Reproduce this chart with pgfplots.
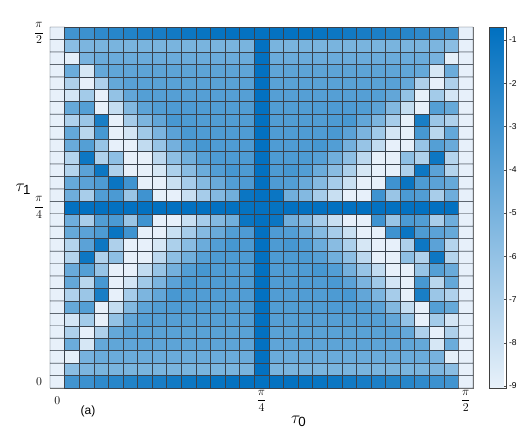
\documentclass[border=0pt]{standalone}
\usepackage{fontspec}
\setmainfont{Liberation Sans}
\usepackage{pgfplots}
\pgfplotsset{compat=1.18}
\definecolor{cellline}{RGB}{58,66,76}

% 29x29 grid, row-major from the bottom row (tau_1 = 0) upwards,
% each text line is one row from tau_0 = 0 to tau_0 = pi/2
\begin{document}
\begin{tikzpicture}
\path[use as bounding box] (-50pt,-44pt) rectangle (479pt,388pt);
\begin{axis}[
  at={(0,0)}, anchor=south west,
  scale only axis, width=423pt, height=361pt,
  xmin=-0.5, xmax=28.5, ymin=-0.5, ymax=28.5,
  clip=false,
  xtick={0,14,28},
  xticklabels={$0$,$\displaystyle\frac{\pi}{4}$,$\displaystyle\frac{\pi}{2}$},
  ytick={0,14,28},
  yticklabels={$0$,$\displaystyle\frac{\pi}{4}$,$\displaystyle\frac{\pi}{2}$},
  major tick length=0pt,
  axis line style={black!60},
  tick label style={font=\fontsize{11.5}{12}\selectfont},
  xticklabel style={anchor=center, yshift=-13pt},
  yticklabel style={anchor=center, xshift=-11pt},
  xlabel={$\tau_{\mathrm{0}}$},
  ylabel={$\tau_{\mathrm{1}}$},
  label style={font=\fontsize{19}{20}\selectfont},
  xlabel style={at={(axis description cs:0.588,-0.092)}, anchor=center},
  ylabel style={at={(axis description cs:-0.063,0.55)}, anchor=center, rotate=-90},
  colormap={blues}{rgb255=(232,241,250) rgb255=(0,112,192)},
  point meta min=-9.05, point meta max=-0.7,
  colorbar,
  colorbar style={
    at={(parent axis.north east)}, anchor=north west, xshift=8pt,
    width=17pt,
    ytick={-9,-8,-7,-6,-5,-4,-3,-2,-1},
    yticklabels={-9,-8,-7,-6,-5,-4,-3,-2,-1},
    ytick pos=right,
    yticklabel style={font=\fontsize{8.5}{9}\selectfont, xshift=-1pt},
    major tick length=3pt, tick align=inside,
    tick style={black!70}, axis line style={black!75},
  },
]
\addplot[matrix plot*, mesh/cols=29, point meta=explicit, draw=cellline, line width=0.45pt]
  table[row sep=\\, meta=c,
        x expr={\coordindex-29*floor((\coordindex+0.5)/29)},
        y expr={floor((\coordindex+0.5)/29)}] {
c\\
-9\\-3.1\\-2.9\\-2.45\\-2.15\\-1.95\\-1.75\\-1.6\\-1.4\\-1.2\\-1.06\\-0.99\\-0.91\\-0.91\\-0.88\\-0.91\\-0.91\\-0.99\\-1.06\\-1.2\\-1.4\\-1.6\\-1.75\\-1.95\\-2.15\\-2.45\\-2.9\\-3.1\\-9\\
-9\\-5.7\\-5.2\\-5.1\\-5.1\\-5.1\\-5.1\\-5.1\\-5.1\\-5.1\\-5.1\\-5.1\\-5.1\\-5.1\\-0.85\\-5.1\\-5.1\\-5.1\\-5.1\\-5.1\\-5.1\\-5.1\\-5.1\\-5.1\\-5.1\\-5.1\\-5.2\\-5.7\\-9\\
-9\\-8.9\\-5.0\\-4.55\\-4.55\\-4.55\\-4.55\\-4.55\\-4.55\\-4.55\\-4.55\\-4.55\\-4.55\\-4.55\\-0.85\\-4.55\\-4.55\\-4.55\\-4.55\\-4.55\\-4.55\\-4.55\\-4.55\\-4.55\\-4.55\\-4.55\\-5.0\\-8.9\\-9\\
-9\\-4.6\\-8.4\\-4.35\\-4.2\\-4.15\\-4.1\\-4.1\\-4.1\\-4.1\\-4.1\\-4.1\\-4.1\\-4.15\\-0.85\\-4.15\\-4.1\\-4.1\\-4.1\\-4.1\\-4.1\\-4.1\\-4.1\\-4.15\\-4.2\\-4.35\\-8.4\\-4.6\\-9\\
-9\\-6.96\\-9\\-6.96\\-4.35\\-3.9\\-3.95\\-3.95\\-3.95\\-3.95\\-3.95\\-3.95\\-3.95\\-3.95\\-0.85\\-3.95\\-3.95\\-3.95\\-3.95\\-3.95\\-3.95\\-3.95\\-3.95\\-3.9\\-4.35\\-6.96\\-9\\-6.96\\-9\\
-9\\-8.3\\-6.6\\-9\\-6.0\\-4.25\\-3.75\\-3.8\\-3.8\\-3.8\\-3.8\\-3.8\\-3.8\\-3.8\\-0.85\\-3.8\\-3.8\\-3.8\\-3.8\\-3.8\\-3.8\\-3.8\\-3.75\\-4.25\\-6.0\\-9\\-6.6\\-8.3\\-9\\
-9\\-4.4\\-3.75\\-9\\-7.75\\-5.4\\-4.05\\-3.65\\-3.55\\-3.55\\-3.6\\-3.65\\-3.65\\-3.65\\-0.85\\-3.65\\-3.65\\-3.65\\-3.6\\-3.55\\-3.55\\-3.65\\-4.05\\-5.4\\-7.75\\-9\\-3.75\\-4.4\\-9\\
-9\\-7.0\\-6.3\\-1.67\\-9\\-6.7\\-5.2\\-4.25\\-3.35\\-3.5\\-3.65\\-3.65\\-3.65\\-3.65\\-0.85\\-3.65\\-3.65\\-3.65\\-3.65\\-3.5\\-3.35\\-4.25\\-5.2\\-6.7\\-9\\-1.67\\-6.3\\-7.0\\-9\\
-9\\-4.35\\-7.36\\-3.3\\-9\\-8.3\\-6.46\\-5.15\\-4.0\\-3.4\\-3.6\\-3.6\\-3.6\\-3.6\\-0.85\\-3.6\\-3.6\\-3.6\\-3.6\\-3.4\\-4.0\\-5.15\\-6.46\\-8.3\\-9\\-3.3\\-7.36\\-4.35\\-9\\
-9\\-4.5\\-3.75\\-6.17\\-9\\-9\\-7.65\\-6.17\\-4.9\\-3.7\\-3.25\\-3.6\\-3.6\\-3.6\\-0.85\\-3.6\\-3.6\\-3.6\\-3.25\\-3.7\\-4.9\\-6.17\\-7.65\\-9\\-9\\-6.17\\-3.75\\-4.5\\-9\\
-9\\-7.18\\-1.24\\-7.0\\-5.85\\-9\\-9\\-7.47\\-5.85\\-4.8\\-3.85\\-3.5\\-3.5\\-3.5\\-0.85\\-3.5\\-3.5\\-3.5\\-3.85\\-4.8\\-5.85\\-7.47\\-9\\-9\\-5.85\\-7.0\\-1.24\\-7.18\\-9\\
-9\\-7.2\\-4.0\\-1.24\\-6.96\\-9\\-9\\-8.4\\-6.9\\-5.67\\-4.6\\-3.7\\-3.25\\-3.5\\-0.85\\-3.5\\-3.25\\-3.7\\-4.6\\-5.67\\-6.9\\-8.4\\-9\\-9\\-6.96\\-1.24\\-4.0\\-7.2\\-9\\
-9\\-4.4\\-4.0\\-3.5\\-1.1\\-3.0\\-9\\-9\\-7.93\\-6.7\\-5.5\\-4.5\\-3.7\\-3.55\\-0.85\\-3.55\\-3.7\\-4.5\\-5.5\\-6.7\\-7.93\\-9\\-9\\-3.0\\-1.1\\-3.5\\-4.0\\-4.4\\-9\\
-9\\-4.7\\-6.75\\-3.65\\-3.45\\-6.24\\-3.0\\-9\\-9\\-7.9\\-6.7\\-5.45\\-4.8\\-1.17\\-0.85\\-1.17\\-4.8\\-5.45\\-6.7\\-7.9\\-9\\-9\\-3.0\\-6.24\\-3.45\\-3.65\\-6.75\\-4.7\\-9\\
-9\\-0.85\\-0.85\\-0.85\\-0.85\\-0.85\\-0.85\\-0.85\\-0.85\\-0.85\\-0.85\\-0.85\\-0.85\\-0.95\\-0.85\\-0.95\\-0.85\\-0.85\\-0.85\\-0.85\\-0.85\\-0.85\\-0.85\\-0.85\\-0.85\\-0.85\\-0.85\\-0.85\\-9\\
-9\\-4.7\\-6.75\\-3.65\\-3.45\\-6.24\\-3.0\\-9\\-9\\-7.9\\-6.7\\-5.45\\-4.8\\-1.17\\-0.85\\-1.17\\-4.8\\-5.45\\-6.7\\-7.9\\-9\\-9\\-3.0\\-6.24\\-3.45\\-3.65\\-6.75\\-4.7\\-9\\
-9\\-4.4\\-4.0\\-3.5\\-1.1\\-3.0\\-9\\-9\\-7.93\\-6.7\\-5.5\\-4.5\\-3.7\\-3.55\\-0.85\\-3.55\\-3.7\\-4.5\\-5.5\\-6.7\\-7.93\\-9\\-9\\-3.0\\-1.1\\-3.5\\-4.0\\-4.4\\-9\\
-9\\-7.2\\-4.0\\-1.24\\-6.96\\-9\\-9\\-8.4\\-6.9\\-5.67\\-4.6\\-3.7\\-3.25\\-3.5\\-0.85\\-3.5\\-3.25\\-3.7\\-4.6\\-5.67\\-6.9\\-8.4\\-9\\-9\\-6.96\\-1.24\\-4.0\\-7.2\\-9\\
-9\\-7.18\\-1.24\\-7.0\\-5.85\\-9\\-9\\-7.47\\-5.85\\-4.8\\-3.85\\-3.5\\-3.5\\-3.5\\-0.85\\-3.5\\-3.5\\-3.5\\-3.85\\-4.8\\-5.85\\-7.47\\-9\\-9\\-5.85\\-7.0\\-1.24\\-7.18\\-9\\
-9\\-4.5\\-3.75\\-6.17\\-9\\-9\\-7.65\\-6.17\\-4.9\\-3.7\\-3.25\\-3.6\\-3.6\\-3.6\\-0.85\\-3.6\\-3.6\\-3.6\\-3.25\\-3.7\\-4.9\\-6.17\\-7.65\\-9\\-9\\-6.17\\-3.75\\-4.5\\-9\\
-9\\-4.35\\-7.36\\-3.3\\-9\\-8.3\\-6.46\\-5.15\\-4.0\\-3.4\\-3.6\\-3.6\\-3.6\\-3.6\\-0.85\\-3.6\\-3.6\\-3.6\\-3.6\\-3.4\\-4.0\\-5.15\\-6.46\\-8.3\\-9\\-3.3\\-7.36\\-4.35\\-9\\
-9\\-7.0\\-6.3\\-1.67\\-9\\-6.7\\-5.2\\-4.25\\-3.35\\-3.5\\-3.65\\-3.65\\-3.65\\-3.65\\-0.85\\-3.65\\-3.65\\-3.65\\-3.65\\-3.5\\-3.35\\-4.25\\-5.2\\-6.7\\-9\\-1.67\\-6.3\\-7.0\\-9\\
-9\\-4.4\\-3.75\\-9\\-7.75\\-5.4\\-4.05\\-3.65\\-3.55\\-3.55\\-3.6\\-3.65\\-3.65\\-3.65\\-0.85\\-3.65\\-3.65\\-3.65\\-3.6\\-3.55\\-3.55\\-3.65\\-4.05\\-5.4\\-7.75\\-9\\-3.75\\-4.4\\-9\\
-9\\-8.3\\-6.6\\-9\\-6.0\\-4.25\\-3.75\\-3.8\\-3.8\\-3.8\\-3.8\\-3.8\\-3.8\\-3.8\\-0.85\\-3.8\\-3.8\\-3.8\\-3.8\\-3.8\\-3.8\\-3.8\\-3.75\\-4.25\\-6.0\\-9\\-6.6\\-8.3\\-9\\
-9\\-6.96\\-9\\-6.96\\-4.35\\-3.9\\-3.95\\-3.95\\-3.95\\-3.95\\-3.95\\-3.95\\-3.95\\-3.95\\-0.85\\-3.95\\-3.95\\-3.95\\-3.95\\-3.95\\-3.95\\-3.95\\-3.95\\-3.9\\-4.35\\-6.96\\-9\\-6.96\\-9\\
-9\\-4.6\\-8.4\\-4.35\\-4.2\\-4.15\\-4.1\\-4.1\\-4.1\\-4.1\\-4.1\\-4.1\\-4.1\\-4.15\\-0.85\\-4.15\\-4.1\\-4.1\\-4.1\\-4.1\\-4.1\\-4.1\\-4.1\\-4.15\\-4.2\\-4.35\\-8.4\\-4.6\\-9\\
-9\\-8.9\\-5.0\\-4.55\\-4.55\\-4.55\\-4.55\\-4.55\\-4.55\\-4.55\\-4.55\\-4.55\\-4.55\\-4.55\\-0.85\\-4.55\\-4.55\\-4.55\\-4.55\\-4.55\\-4.55\\-4.55\\-4.55\\-4.55\\-4.55\\-4.55\\-5.0\\-8.9\\-9\\
-9\\-5.7\\-5.2\\-5.1\\-5.1\\-5.1\\-5.1\\-5.1\\-5.1\\-5.1\\-5.1\\-5.1\\-5.1\\-5.1\\-0.85\\-5.1\\-5.1\\-5.1\\-5.1\\-5.1\\-5.1\\-5.1\\-5.1\\-5.1\\-5.1\\-5.1\\-5.2\\-5.7\\-9\\
-9\\-3.1\\-2.9\\-2.45\\-2.15\\-1.95\\-1.75\\-1.6\\-1.4\\-1.2\\-1.06\\-0.99\\-0.91\\-0.91\\-0.88\\-0.91\\-0.91\\-0.99\\-1.06\\-1.2\\-1.4\\-1.6\\-1.75\\-1.95\\-2.15\\-2.45\\-2.9\\-3.1\\-9\\
};
\node[font=\fontsize{12}{13}\selectfont] at (axis description cs:0.09,-0.066) {(a)};
\end{axis}
\end{tikzpicture}
\end{document}
